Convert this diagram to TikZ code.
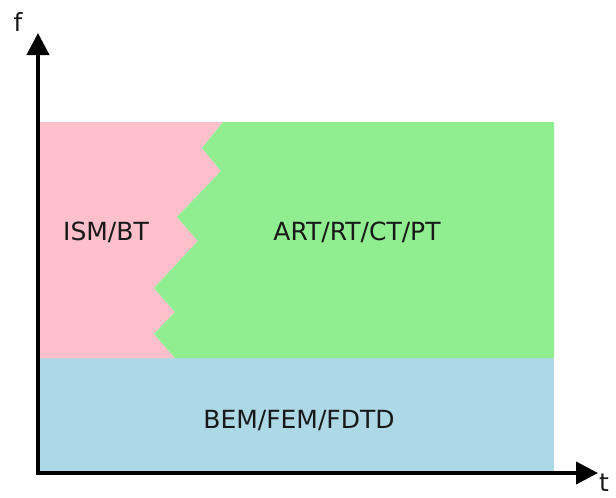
\documentclass[tikz,border=0pt]{standalone}
\usepackage{fontspec}
\setmainfont{DejaVu Sans}
\usetikzlibrary{arrows.meta}
\definecolor{bandblue}{HTML}{ADD8E6}
\definecolor{bandpink}{HTML}{FFC0CB}
\definecolor{bandgreen}{HTML}{90EE90}
\begin{document}
\begin{tikzpicture}[x=1pt,y=-1pt,
  region/.style={draw=none},
  label/.style={font=\fontsize{25}{30}\selectfont, text=black!90, inner sep=0pt},
  axis/.style={line width=4pt, -{Triangle[length=22pt,width=22pt]}}]
\useasboundingbox (0,0) rectangle (616,498);
% low-frequency band across the whole time range
\fill[region, fill=bandblue] (40,358) rectangle (554,471);
% early-time / high-frequency part
\fill[region, fill=bandpink] (40,122) -- (223,122) -- (202,148) -- (221,171) -- (177,217)
  -- (198,241) -- (154,288) -- (175,312) -- (154,334) -- (175,358) -- (40,358) -- cycle;
% late-time / high-frequency part
\fill[region, fill=bandgreen] (223,122) -- (554,122) -- (554,358) -- (175,358) -- (154,334)
  -- (175,312) -- (154,288) -- (198,241) -- (177,217) -- (221,171) -- (202,148) -- cycle;
% region labels
\node[label] (ism) at (106,232) {ISM/BT};
\node[label] (art) at (357,232) {ART/RT/CT/PT};
\node[label] (bem) at (299,421) {BEM/FEM/FDTD};
% axes
\coordinate (origin) at (38,473);
\coordinate (ftip) at (38,33);
\coordinate (ttip) at (598,473);
\draw[axis] (origin) -- (ftip);
\draw[axis] ([xshift=-2pt]origin) -- (ttip);
\node[label] (flabel) at (18,22) {f};
\node[label] (tlabel) at (604,483) {t};
\end{tikzpicture}
\end{document}
